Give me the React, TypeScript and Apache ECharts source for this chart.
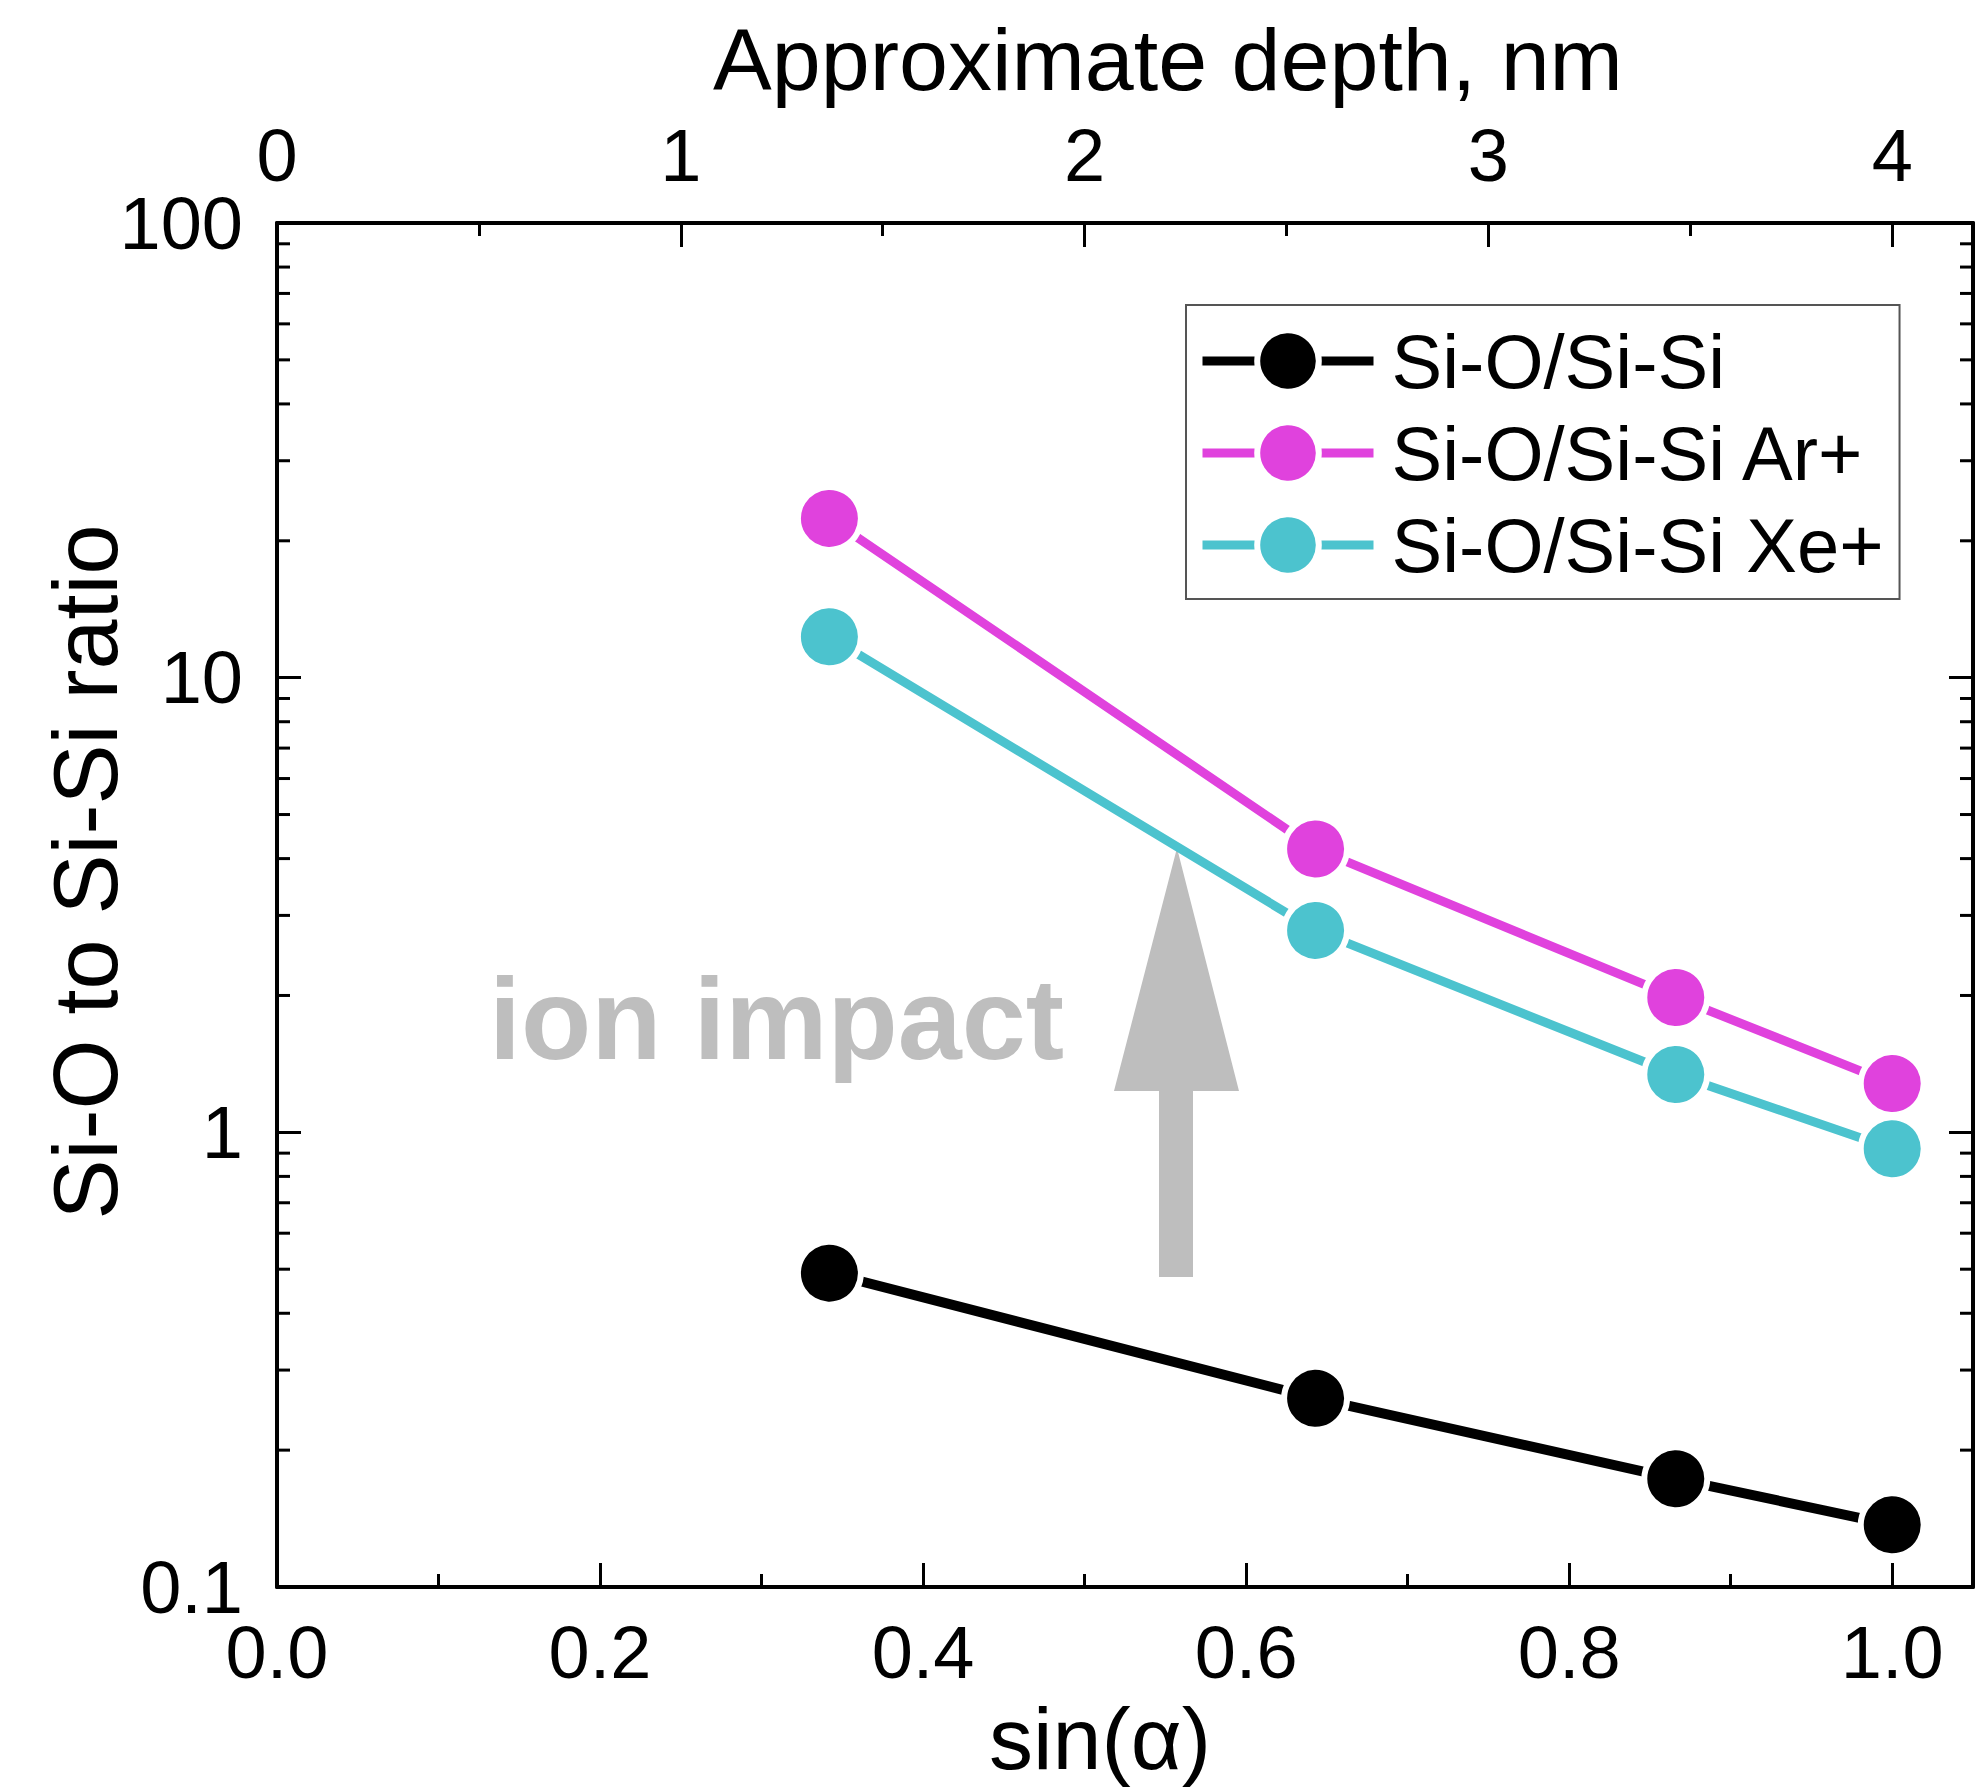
import React, { useEffect, useRef } from "react";
import * as echarts from "echarts";

// ---- data ----
const sinAlpha = [0.342, 0.643, 0.866, 1.0];
const seriesNames = ["Si-O/Si-Si", "Si-O/Si-Si Ar+", "Si-O/Si-Si Xe+"];
const ratioPlain = [0.49, 0.26, 0.173, 0.137];
const ratioAr = [22.4, 4.2, 1.98, 1.28];
const ratioXe = [12.3, 2.78, 1.34, 0.92];
const seriesColors = ["#000000", "#E042DD", "#4CC3CE"];
const seriesLineWidths = [10, 9, 9];

// axis ranges / tick values
const xMin = 0;
const xMax = 1.05;
const xInterval = 0.2;
const depthMin = 0;
const depthMax = 4.2;
const depthInterval = 1;
const yMin = 0.1;
const yMax = 100;
const logMinorTicks = [
  0.2, 0.3, 0.4, 0.5, 0.6, 0.7, 0.8, 0.9,
  2, 3, 4, 5, 6, 7, 8, 9,
  20, 30, 40, 50, 60, 70, 80, 90,
];

const FONT = "'Liberation Sans', Arial, Helvetica, sans-serif";

export default function App() {
  const ref = useRef<HTMLDivElement>(null);

  useEffect(() => {
    if (!ref.current) return;
    const chart = echarts.init(ref.current, null, { renderer: "svg" });

    const axisLine = { show: true, onZero: false, lineStyle: { color: "#000", width: 4 } };
    const majorTick = { show: true, inside: true, length: 24, lineStyle: { color: "#000", width: 3 } };
    const minorTick = { show: true, splitNumber: 2, length: 13, lineStyle: { color: "#000", width: 3 } };
    const labelStyle = { color: "#000", fontSize: 74, fontFamily: FONT };

    const lineSeries = [ratioPlain, ratioAr, ratioXe].map((vals, i) => ({
      name: seriesNames[i],
      type: "line",
      xAxisIndex: 0,
      yAxisIndex: 0,
      data: sinAlpha.map((x, j) => [x, vals[j]]),
      symbol: "circle",
      symbolSize: 63,
      lineStyle: { color: seriesColors[i], width: seriesLineWidths[i] },
      itemStyle: { color: seriesColors[i], borderColor: "#ffffff", borderWidth: 6 },
      z: 3,
    }));

    const option: any = {
      animation: false,
      backgroundColor: "#ffffff",
      grid: { left: 277, top: 223, right: 9, bottom: 200, containLabel: false },
      xAxis: [
        {
          type: "value",
          position: "bottom",
          min: xMin,
          max: xMax,
          interval: xInterval,
          axisLine,
          axisTick: majorTick,
          minorTick,
          splitLine: { show: false },
          minorSplitLine: { show: false },
          axisLabel: {
            ...labelStyle,
            margin: 28,
            showMaxLabel: false,
            formatter: (v: number) => v.toFixed(1),
          },
        },
        {
          type: "value",
          position: "top",
          min: depthMin,
          max: depthMax,
          interval: depthInterval,
          axisLine,
          axisTick: majorTick,
          minorTick,
          splitLine: { show: false },
          minorSplitLine: { show: false },
          axisLabel: {
            ...labelStyle,
            margin: 31,
            showMaxLabel: false,
            formatter: (v: number) => String(Math.round(v)),
          },
        },
      ],
      yAxis: [
        {
          type: "log",
          logBase: 10,
          position: "left",
          min: yMin,
          max: yMax,
          axisLine,
          axisTick: majorTick,
          minorTick: { show: false },
          splitLine: { show: false },
          axisLabel: {
            ...labelStyle,
            margin: 34,
            formatter: (v: number) => (v >= 1 ? v.toFixed(0) : v.toFixed(1)),
          },
        },
        {
          type: "log",
          logBase: 10,
          position: "right",
          min: yMin,
          max: yMax,
          axisLine,
          axisTick: majorTick,
          minorTick: { show: false },
          splitLine: { show: false },
          axisLabel: { show: false },
        },
      ],
      legend: {
        data: seriesNames,
        orient: "vertical",
        left: 1186,
        top: 305,
        padding: [18, 16, 16, 12],
        itemWidth: 171,
        itemHeight: 77,
        itemGap: 16,
        borderColor: "#555555",
        borderWidth: 2,
        backgroundColor: "#ffffff",
        lineStyle: { width: 9 },
        itemStyle: { borderWidth: 6, borderColor: "#ffffff" },
        textStyle: { color: "#000", fontSize: 76, fontFamily: FONT, padding: [0, 0, 0, 13] },
      },
      graphic: [
        {
          type: "polygon",
          z: 1,
          silent: true,
          shape: {
            points: [
              [1177, 848],
              [1239, 1091],
              [1193, 1091],
              [1193, 1277],
              [1159, 1277],
              [1159, 1091],
              [1114, 1091],
            ],
          },
          style: { fill: "#BEBEBE" },
        },
        {
          type: "text",
          z: 1,
          silent: true,
          x: 489,
          y: 1019,
          style: {
            text: "ion impact",
            fill: "#BEBEBE",
            font: `bold 115px ${FONT}`,
            textAlign: "left",
            textVerticalAlign: "middle",
          },
        },
        {
          type: "text",
          silent: true,
          x: 1168,
          y: 59,
          style: {
            text: "Approximate depth, nm",
            fill: "#000",
            font: `88px ${FONT}`,
            textAlign: "center",
            textVerticalAlign: "middle",
          },
        },
        {
          type: "text",
          silent: true,
          x: 1100,
          y: 1738,
          style: {
            text: "sin(α)",
            fill: "#000",
            font: `88px ${FONT}`,
            textAlign: "center",
            textVerticalAlign: "middle",
          },
        },
        {
          type: "text",
          silent: true,
          x: 86,
          y: 872,
          rotation: Math.PI / 2,
          style: {
            text: "Si-O to Si-Si ratio",
            fill: "#000",
            font: `90px ${FONT}`,
            textAlign: "center",
            textVerticalAlign: "middle",
          },
        },
      ],
      series: [
        ...lineSeries,
        {
          name: "logMinorTicks",
          type: "custom",
          xAxisIndex: 0,
          yAxisIndex: 0,
          silent: true,
          clip: false,
          z: 4,
          data: logMinorTicks.map((v) => [xMin, v]),
          renderItem: (_params: any, api: any) => {
            const v = api.value(1);
            const l = api.coord([xMin, v]);
            const r = api.coord([xMax, v]);
            return {
              type: "group",
              children: [
                {
                  type: "line",
                  shape: { x1: l[0], y1: l[1], x2: l[0] + 13, y2: l[1] },
                  style: { stroke: "#000", lineWidth: 3 },
                },
                {
                  type: "line",
                  shape: { x1: r[0], y1: r[1], x2: r[0] - 13, y2: r[1] },
                  style: { stroke: "#000", lineWidth: 3 },
                },
              ],
            };
          },
        },
      ],
    };

    chart.setOption(option);
    return () => chart.dispose();
  }, []);

  return (
    <div
      ref={ref}
      style={{ position: "absolute", left: 0, top: 0, width: 1982, height: 1787, background: "#fff" }}
    />
  );
}
